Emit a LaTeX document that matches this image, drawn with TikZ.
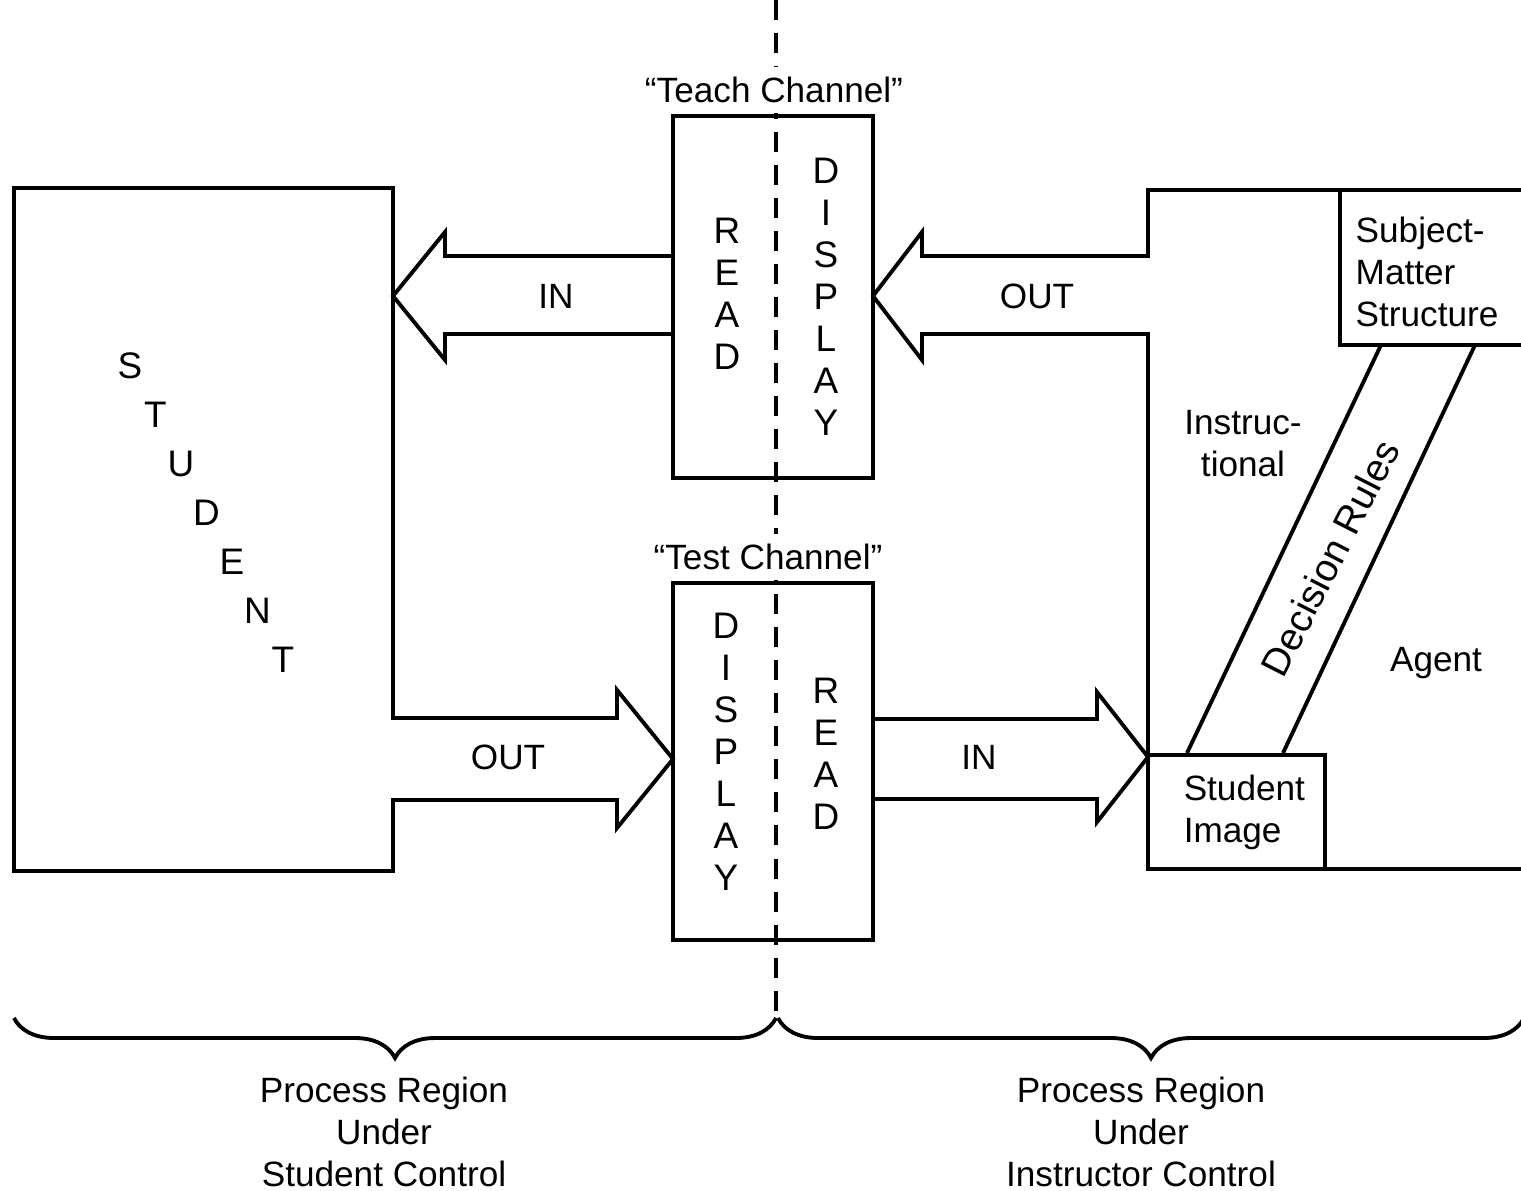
\documentclass[tikz,border=0pt]{standalone}
\usepackage{fontspec}
\setmainfont{Liberation Sans}
\usetikzlibrary{positioning,calc}
\usetikzlibrary{decorations.pathreplacing}

\begin{document}
\begin{tikzpicture}[x=0.01cm,y=-0.01cm,
        box/.style={line width=1.1pt,line join=miter},
        lbl/.style={font=\fontsize{10}{11.95}\selectfont,inner sep=0pt,align=center},
        vword/.style={font=\fontsize{10.5}{11.95}\selectfont,inner sep=0pt,align=center},
        regionbrace/.style={line width=1.1pt,decorate,decoration={brace,mirror,amplitude=0.4cm}}]
        \useasboundingbox (0,0) rectangle (1521,1191);

        % Divider
        \draw[line width=0.9pt,dash pattern=on 0.2cm off 0.13cm] (776,0) -- (776,1020);

        % Student side
        \draw[box] (393,718) -- (393,188) -- (14,188) -- (14,871) -- (393,871) -- (393,800)
            -- (617,800) -- (617,828) -- (673,759) -- (617,690) -- (617,718) -- cycle;
        \foreach \l [count=\i] in {S,T,U,D,E,N,T}
            \node[vword] (stu\i) at ({130+25.5*(\i-1)},{366+49*(\i-1)}) {\l};

        % Channels
        \draw[box] (673,116) rectangle (873,478);
        \draw[box] (673,583) rectangle (873,940);
        \draw[box] (673,256) -- (445,256) -- (445,232) -- (393,296) -- (445,360) -- (445,334) -- (673,334);
        \draw[box] (873,719) -- (1097,719) -- (1097,692) -- (1148,757) -- (1097,822) -- (1097,799) -- (873,799);

        \node[lbl,fill=white,inner sep=3pt] (teach) at (774,90) {“Teach Channel”};
        \node[lbl,fill=white,inner sep=3pt] (test) at (768,557) {“Test Channel”};
        \node[vword] (tread) at (727,294) {R\\E\\A\\D};
        \node[vword] (tdisp) at (826,297) {D\\I\\S\\P\\L\\A\\Y};
        \node[vword] (sdisp) at (726,752) {D\\I\\S\\P\\L\\A\\Y};
        \node[vword] (sread) at (826,754) {R\\E\\A\\D};
        \node[lbl] (in1) at (556,296) {IN};
        \node[lbl] (out1) at (1037,296) {OUT};
        \node[lbl] (out2) at (508,757) {OUT};
        \node[lbl] (in2) at (979,757) {IN};

        % Instructor side
        \draw[box] (1521,190) -- (1148,190) -- (1148,256) -- (922,256) -- (922,232) -- (873,296)
            -- (922,360) -- (922,334) -- (1148,334) -- (1148,869) -- (1521,869);
        \draw[box] (1340,190) -- (1340,345) -- (1521,345);
        \node[box,draw,minimum width=1.77cm,minimum height=1.14cm] (simg) at (1236.5,812) {};
        \node[lbl,align=left,anchor=west] (simgtxt) at ([xshift=0.37cm]simg.west) {Student\\Image};
        \coordinate (dra) at (1381,345);
        \coordinate (drb) at (1475,345);
        \draw[box] (dra) -- (simg.north west -| 1187,0);
        \draw[box] (drb) -- (simg.north west -| 1283,0);
        \node[lbl,align=left,anchor=west] (subj) at (1355,272) {Subject-\\Matter\\Structure};
        \node[lbl] (instr) at (1243,444) {Instruc-\\tional};
        \node[lbl] (agent) at (1436,663) {Agent};
        \node[lbl,font=\fontsize{11}{12}\selectfont,rotate=63] (rules) at (1330,558) {Decision Rules};

        % Regions
        \draw[regionbrace] (14,1018) -- (776,1018);
        \draw[regionbrace] (778,1018) -- (1524,1018);
        \node[lbl] (sreg) at (384,1132) {Process Region\\Under\\Student Control};
        \node[lbl] (ireg) at (1141,1132) {Process Region\\Under\\Instructor Control};
    \end{tikzpicture}
\end{document}
